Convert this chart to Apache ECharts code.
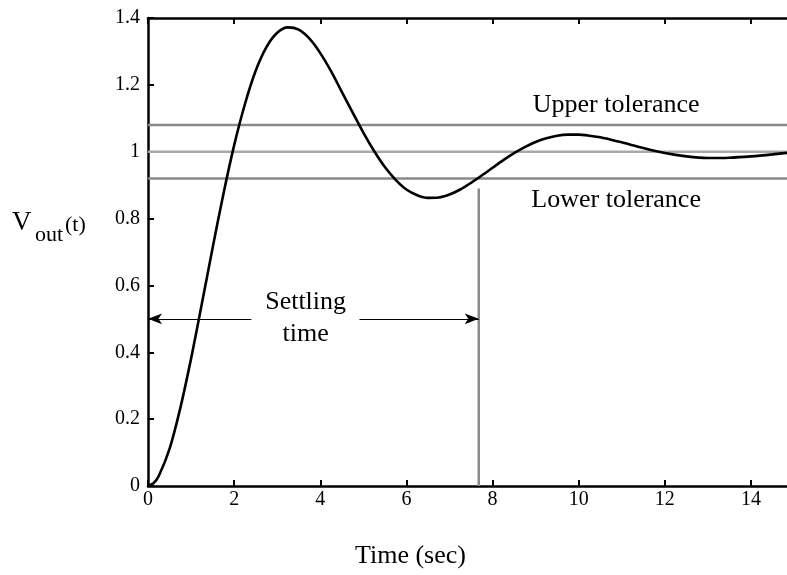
<!DOCTYPE html>
<html><head><meta charset="utf-8">
<script src="https://cdn.jsdelivr.net/npm/echarts@6/dist/echarts.min.js"></script>
<style>html,body{margin:0;padding:0;background:#fff}#c{width:787px;height:575px}</style>
</head><body><div id="c"></div>
<script>
// ---- data ----
const times = [0,0.125,0.25,0.5,0.75,1,1.25,1.5,1.75,2,2.25,2.5,2.75,3,3.25,3.5,3.75,4,4.25,4.5,4.75,5,5.25,5.5,5.75,6,6.25,6.5,6.75,7,7.25,7.5,7.75,8,8.25,8.5,8.75,9,9.25,9.5,9.75,10,10.25,10.5,10.75,11,11.5,12,12.5,13,13.5,14,14.5,15];
const vout  = [0,0.008,0.03,0.111,0.233,0.381,0.545,0.712,0.873,1.019,1.142,1.242,1.313,1.356,1.372,1.365,1.338,1.295,1.241,1.179,1.118,1.057,1.002,0.954,0.916,0.887,0.870,0.862,0.863,0.872,0.887,0.907,0.929,0.952,0.975,0.996,1.014,1.029,1.040,1.048,1.051,1.051,1.048,1.043,1.036,1.028,1.011,0.996,0.986,0.981,0.982,0.986,0.992,0.999];
const xTickLabels = ['0','2','4','6','8','10','12','14'];
const yTickLabels = ['0','0.2','0.4','0.6','0.8','1','1.2','1.4'];
const upperTolerance = 1.08;
const finalValue = 1.0;
const lowerTolerance = 0.92;
const settlingTime = 7.68;
const settlingMarkerTop = 0.89;
const arrowLevel = 0.5;
const arrowGap = [2.4, 4.91];
const timeRange = [0, 15];
const annotationTexts = ['Upper tolerance', 'Lower tolerance', 'Settling\ntime'];
const annotationAt = [[10.87, 1.14], [10.87, 0.856], [3.66, 0.503]];

const FONT = "'Liberation Serif','Times New Roman',serif";
const chart = echarts.init(document.getElementById('c'), null, {renderer: 'canvas'});

const hline = (v, color) => ({
  type: 'line', data: [[timeRange[0], v], [timeRange[1], v]], symbol: 'none', silent: true,
  lineStyle: {color: color, width: 2.5}, z: 2
});

const xAxisBase = {
  type: 'value', min: timeRange[0], max: timeRange[1], interval: 2,
  axisLine: {show: true, onZero: false, lineStyle: {color: '#000', width: 2.5}},
  axisTick: {show: true, inside: true, length: 6, lineStyle: {color: '#000', width: 2}},
  splitLine: {show: false}
};

chart.setOption({
  animation: false,
  backgroundColor: '#fff',
  grid: {left: 148, top: 18, width: 646, height: 468, containLabel: false, outerBoundsMode: 'none'},
  xAxis: [
    Object.assign({}, xAxisBase, {
      position: 'bottom',
      axisLabel: {
        show: true, margin: 4, color: '#000', fontFamily: FONT, fontSize: 20,
        formatter: v => { const i = xTickLabels.indexOf(String(Math.round(v*100)/100)); return i >= 0 ? xTickLabels[i] : ''; }
      }
    }),
    Object.assign({}, xAxisBase, {position: 'top', axisLabel: {show: false}})
  ],
  yAxis: {
    type: 'value', min: 0, max: 1.4, interval: 0.2, position: 'left',
    axisLine: {show: true, onZero: false, lineStyle: {color: '#000', width: 2.5}},
    axisTick: {show: true, inside: true, length: 6, lineStyle: {color: '#000', width: 2}},
    splitLine: {show: false},
    axisLabel: {
      show: true, margin: 8, color: '#000', fontFamily: FONT, fontSize: 20, padding: [0, 0, 6, 0],
      formatter: v => yTickLabels[Math.round(v / 0.2)] || ''
    }
  },
  series: [
    hline(upperTolerance, '#8a8a8a'),
    hline(finalValue, '#a8a8a8'),
    hline(lowerTolerance, '#8a8a8a'),
    {
      type: 'line', data: [[settlingTime, 0], [settlingTime, settlingMarkerTop]], symbol: 'none', silent: true,
      lineStyle: {color: '#8a8a8a', width: 2.5}, z: 2
    },
    {
      type: 'line', data: times.map((t, i) => [t, vout[i]]), symbol: 'none', smooth: 0.3,
      lineStyle: {color: '#000', width: 2.6}, z: 5,
      markLine: {
        silent: true, symbol: ['none', 'arrow'], symbolSize: [8, 14], animation: false,
        lineStyle: {color: '#000', width: 1, type: 'solid'},
        label: {show: false},
        data: [
          [{coord: [arrowGap[0], arrowLevel]}, {coord: [timeRange[0], arrowLevel]}],
          [{coord: [arrowGap[1], arrowLevel]}, {coord: [settlingTime, arrowLevel]}]
        ]
      }
    },
    {
      type: 'scatter', symbolSize: 1, itemStyle: {color: 'rgba(0,0,0,0)'}, silent: true, z: 6,
      data: annotationTexts.map((s, i) => [annotationAt[i][0], annotationAt[i][1], s]),
      label: {
        show: true, position: 'inside', color: '#000', fontFamily: FONT, fontSize: 26, lineHeight: 32,
        align: 'center', verticalAlign: 'middle', textBorderWidth: 0, opacity: 1,
        formatter: p => p.data[2]
      },
      labelLayout: {hideOverlap: false}
    }
  ],
  graphic: [
    {type: 'text', left: 355, top: 543, style: {text: 'Time (sec)', font: '26px ' + FONT, fill: '#000'}},
    {type: 'text', x: 12, y: 223, style: {text: 'V', font: '27px ' + FONT, fill: '#000', verticalAlign: 'middle'}},
    {type: 'text', x: 35, y: 235, style: {text: 'out', font: '22px ' + FONT, fill: '#000', verticalAlign: 'middle'}},
    {type: 'text', x: 65, y: 225, style: {text: '(t)', font: '22px ' + FONT, fill: '#000', verticalAlign: 'middle'}}
  ]
});
</script></body></html>
